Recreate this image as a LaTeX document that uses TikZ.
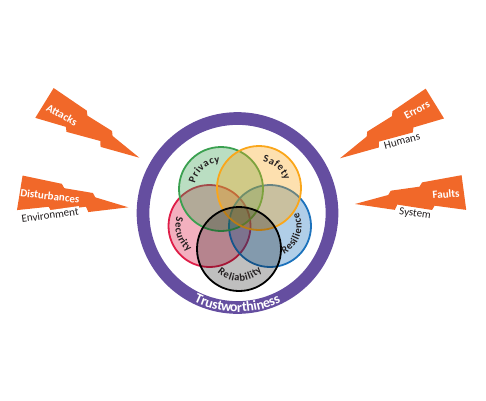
\documentclass[tikz,border=0pt]{standalone}
\usepackage{fontspec}
\setmainfont{Carlito}
\usetikzlibrary{
    decorations.text,
    positioning
}
\definecolor{ringpurple}{RGB}{101, 78, 160}
\definecolor{boltorange}{RGB}{241, 104, 41}
\definecolor{privgreen}{RGB}{58, 160, 80}
\definecolor{safeorange}{RGB}{250, 166, 26}
\definecolor{securered}{RGB}{222, 30, 72}
\definecolor{resblue}{RGB}{28, 114, 188}
\definecolor{labelgray}{RGB}{35, 31, 32}
\tikzset {
    bolt/.pic = {
        \fill [boltorange] (-109, 17.5) -- (-69, 14.5) -- (-66, 10.5)
            -- (-37, 9.5) -- (-34, 5.5) -- (0, 0) -- (-39, -10) -- (-42, -5)
            -- (-76, -14) -- (-79, -10) -- (-110, -17.5) -- cycle;
    },
    bolt text/.style = {text = white, font = \bfseries\fontsize{11}{13}\selectfont, inner sep = 1pt},
    source text/.style = {text = labelgray, font = \fontsize{11}{13}\selectfont, fill = white, inner sep = 1pt},
    venn circle/.style = {circle, line width = 1.8pt, fill opacity = 0.35, inner sep = 0pt},
    arc text/.style n args = {4}{
        decorate,
        decoration = {
            text effects along path,
            text = {#4},
            text align = center,
            text effects/.cd,
                text along path,
                characters = {text = #1, font = \bfseries\fontsize{#2}{#2}\selectfont},
                character widths = {inner xsep = #3}
        }
    }
}
\begin{document}
\begin{tikzpicture}[x = 1pt, y = 1pt]
    \useasboundingbox (0, 0) rectangle (486, 400);
    % threats
    \pic [rotate = -30] at (139.3, 242.3) {bolt};
    \pic [rotate = -7.6] at (128.3, 192.7) {bolt};
    \pic [rotate = 30, xscale = -1] at (340, 241.7) {bolt};
    \pic [rotate = 6, xscale = -1] at (355, 196) {bolt};
    \node (attacks) [bolt text, rotate = -28] at (62, 285) {Attacks};
    \node (disturbances) [bolt text, rotate = -7] at (50, 204) {Disturbances};
    \node (environment) [source text, rotate = 8] at (50, 185) {Environment};
    \node (errors) [bolt text, rotate = 28] at (417, 290) {Errors};
    \node (humans) [source text, rotate = 15] at (402, 259) {Humans};
    \node (faults) [bolt text, rotate = 5] at (446, 206) {Faults};
    \node (system) [source text, rotate = -8] at (415, 186) {System};
    % ring
    \node (ring) [circle, draw = ringpurple, line width = 12.7pt, minimum size = 189pt, inner sep = 0pt] at (237.5, 187) {};
    \path [arc text = {white}{14}{0.8pt}{Trustworthiness}] ([shift = {(-135:99)}] ring.center) arc [start angle = -135, end angle = -45, radius = 99];
    % venn
    \node (security) [venn circle, draw = securered, fill = securered, minimum size = 82pt] at (209.5, 174) {};
    \node (resilience) [venn circle, draw = resblue, fill = resblue, minimum size = 82pt] at (270, 174) {};
    \node (privacy) [venn circle, draw = privgreen, fill = privgreen, minimum size = 84pt] at (221, 211) {};
    \node (safety) [venn circle, draw = safeorange, fill = safeorange, minimum size = 84pt] at (259, 212) {};
    \node (reliability) [venn circle, draw = black, fill = black, fill opacity = 0.25, minimum size = 84pt] at (239, 151) {};
    \path [arc text = {labelgray}{10.5}{0.45pt}{Privacy}] ([shift = {(178:26.5)}] privacy.center) arc [start angle = 178, end angle = 82, radius = 26.5];
    \path [arc text = {labelgray}{10.5}{0.45pt}{Safety}] ([shift = {(95:26.5)}] safety.center) arc [start angle = 95, end angle = 3, radius = 26.5];
    \path [arc text = {labelgray}{10.5}{0.45pt}{Security}] ([shift = {(155:34)}] security.center) arc [start angle = 155, end angle = 240, radius = 34];
    \path [arc text = {labelgray}{10.5}{0.45pt}{Resilience}] ([shift = {(-70:31.5)}] resilience.center) arc [start angle = -70, end angle = 32, radius = 31.5];
    \path [arc text = {labelgray}{10.5}{0.45pt}{Reliability}] ([shift = {(-138:32)}] reliability.center) arc [start angle = -138, end angle = -38, radius = 32];
\end{tikzpicture}
\end{document}
